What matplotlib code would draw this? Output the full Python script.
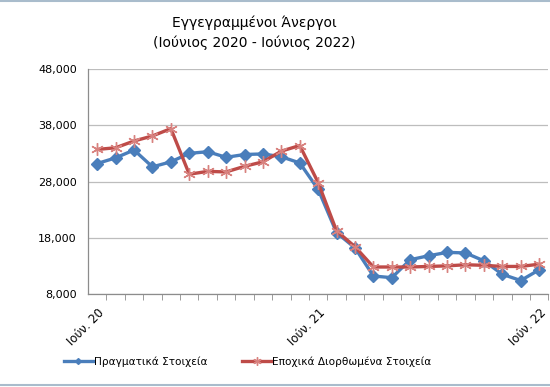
import matplotlib.pyplot as plt
from matplotlib.lines import Line2D

# Εγγεγραμμένοι άνεργοι, Ιούνιος 2020 - Ιούνιος 2022 (25 μήνες)
months = ["Ιούν. 20", "Ιούλ. 20", "Αύγ. 20", "Σεπ. 20", "Οκτ. 20", "Νοέ. 20",
          "Δεκ. 20", "Ιαν. 21", "Φεβ. 21", "Μάρ. 21", "Απρ. 21", "Μάι. 21",
          "Ιούν. 21", "Ιούλ. 21", "Αύγ. 21", "Σεπ. 21", "Οκτ. 21", "Νοέ. 21",
          "Δεκ. 21", "Ιαν. 22", "Φεβ. 22", "Μάρ. 22", "Απρ. 22", "Μάι. 22",
          "Ιούν. 22"]
actual = [31200, 32200, 33600, 30600, 31500, 33000, 33300, 32300, 32800,
          32900, 32400, 31300, 26600, 18900, 16200, 11200, 10900, 14100,
          14800, 15400, 15300, 13900, 11500, 10400, 12300]
seasonal = [33700, 34000, 35200, 36100, 37400, 29300, 29800, 29700, 30700,
            31500, 33400, 34400, 27800, 19200, 16400, 12800, 12800, 12800,
            12900, 13000, 13200, 13100, 12900, 12900, 13300]
yticks = [8000, 18000, 28000, 38000, 48000]

blue = "#4a7ebb"
red = "#be4b48"
star = (6, 2, 0)

fig = plt.figure(figsize=(5.5, 3.87), dpi=100)
ax = fig.add_axes([0.16, 0.2403, 0.837, 0.5814])

x = list(range(len(months)))
ax.plot(x, actual, color=blue, lw=2.4, marker="D", ms=6.5,
        mfc=blue, mec=blue, zorder=3)
ax.plot(x, seasonal, color=red, lw=2.4, marker=star, ms=9,
        mec="#d8827f", mew=1.0, zorder=4)

ax.set_xlim(-0.5, len(months) - 0.5)
ax.set_ylim(8000, 48000)
ax.set_yticks(yticks)
ax.set_yticklabels([f"{v:,}" for v in yticks])
ax.yaxis.grid(True, color="#bdbdbd", lw=0.9)
ax.set_axisbelow(True)
ax.yaxis.set_tick_params(length=0, pad=8, labelsize=8)

lab = [0, 12, 24]
ax.set_xticks(lab)
ax.set_xticklabels([months[i] for i in lab], fontsize=8.5, rotation=45,
                   ha="right", va="top", rotation_mode="anchor")
ax.set_xticks([i - 0.5 for i in range(1, len(months) + 1)], minor=True)
ax.tick_params(axis="x", which="major", length=0, pad=9)
ax.tick_params(axis="x", which="minor", length=4, direction="out",
               color="#8c8c8c")

for s in ["top", "right"]:
    ax.spines[s].set_visible(False)
for s in ["left", "bottom"]:
    ax.spines[s].set_color("#8c8c8c")
    ax.spines[s].set_linewidth(0.9)

fig.text(0.463, 0.941, "Εγγεγραμμένοι Άνεργοι", ha="center", va="center",
         fontsize=10)
fig.text(0.463, 0.889, "(Ιούνιος 2020 - Ιούνιος 2022)", ha="center",
         va="center", fontsize=10)

handles = [Line2D([], [], color=blue, lw=2.4, marker="D", ms=3),
           Line2D([], [], color=red, lw=2.4, marker=star, ms=6,
                  mec="#d8827f")]
fig.legend(handles, ["Πραγματικά Στοιχεία", "Εποχικά Διορθωμένα Στοιχεία"],
           loc="center", bbox_to_anchor=(0.45, 0.065), ncol=2, frameon=False,
           fontsize=7.6, handlelength=2.8, handletextpad=0.05,
           columnspacing=3.3)

fig.add_artist(Line2D([0, 1], [0.998, 0.998], color="#a9bccc", lw=1.5))
fig.add_artist(Line2D([0, 1], [0.006, 0.006], color="#a9bccc", lw=1.5))

fig.savefig("out.png", dpi=100)
